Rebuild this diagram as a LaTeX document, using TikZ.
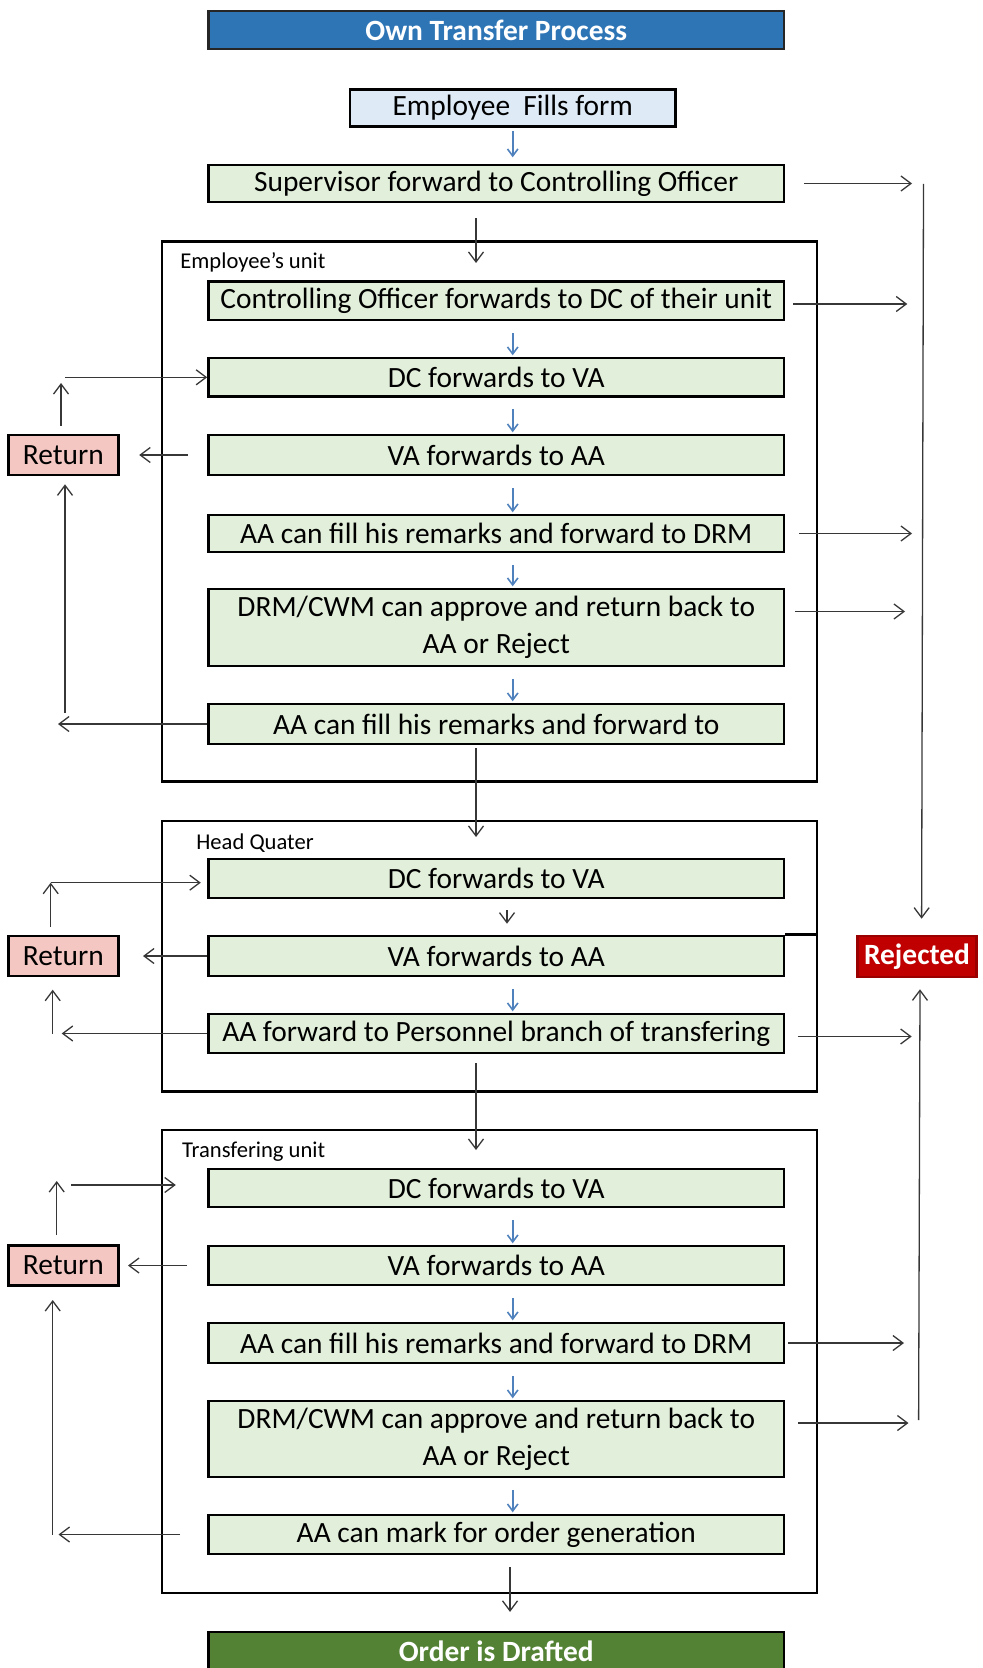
\documentclass[tikz,border=0pt]{standalone}
\usepackage{fontspec}
\setmainfont{Carlito}
\usetikzlibrary{arrows.meta}
\definecolor{titleblue}{RGB}{46,117,182}
\definecolor{lightblue}{RGB}{222,235,247}
\definecolor{boxgreen}{RGB}{226,239,218}
\definecolor{retpink}{RGB}{244,199,195}
\definecolor{rejred}{RGB}{192,0,0}
\definecolor{ordgreen}{RGB}{84,130,53}
\definecolor{arrblue}{RGB}{79,129,189}
\definecolor{arrgray}{RGB}{55,55,55}
\begin{document}
\begin{tikzpicture}[x=0.5pt,y=-0.5pt,
  base/.style={draw=black, line width=1.3pt, rectangle, inner sep=0pt, align=center,
    font=\fontsize{14.7}{18.6}\selectfont},
  boldtxt/.style={font=\bfseries\fontsize{14.7}{18.6}\selectfont, text=white},
  stepbox/.style={base, fill=boxgreen, minimum width=287.75pt},
  retbox/.style={base, fill=retpink, minimum width=55pt, minimum height=20pt},
  conbox/.style={draw=black, line width=1.3pt},
  lbl/.style={font=\fontsize{11.3}{13}\selectfont, anchor=base west, inner sep=0pt},
  arr/.style={draw=arrgray, line width=0.65pt, -{Straight Barb[length=5pt,width=7.5pt]}},
  barr/.style={draw=arrblue, line width=0.8pt, -{Straight Barb[length=3.5pt,width=5.2pt]},
    shorten <=5.8pt, shorten >=0.7pt},
]
\useasboundingbox (0,0) rectangle (982,1668);

% containers
\draw[conbox] (162,241.7) rectangle (817,781.7);
\draw[conbox] (162,821) rectangle (817,1091.5);
\draw[conbox] (162,1130) rectangle (817,1593);
\node[lbl] (lab1) at (180,269) {Employee's unit};
\node[lbl] (lab2) at (196,849.3) {Head Quater};
\node[lbl] (lab3) at (181.7,1157.3) {Transfering unit};

% top
\node[base, boldtxt, fill=titleblue, draw=black!85, minimum width=287.75pt, minimum height=19pt] (title) at (496.25,30) {Own Transfer Process};
\node[base, fill=lightblue, minimum width=162.8pt, minimum height=18.6pt] (emp) at (512.8,108) {Employee\ \ Fills form};
\node[stepbox, minimum height=18.5pt] (sup) at (496.25,183.5) {Supervisor forward to Controlling Officer};

% employee's unit
\node[stepbox, minimum height=19.2pt] (co) at (496.25,301) {Controlling Officer forwards to DC of their unit};
\node[stepbox, minimum height=19.3pt] (dc1) at (496.25,377.3) {DC forwards to VA};
\node[stepbox, minimum height=20pt] (va1) at (496.25,455) {VA forwards to AA};
\node[stepbox, minimum height=18.5pt] (aa1) at (496.25,533.5) {AA can fill his remarks and forward to DRM};
\node[stepbox, minimum height=38.5pt] (drm1) at (496.25,627.5) {DRM/CWM can approve and return back to\\AA or Reject};
\node[stepbox, minimum height=20pt] (aaf1) at (496.25,724) {AA can fill his remarks and forward to};

% head quater
\node[stepbox, minimum height=19.5pt] (dc2) at (496.25,878.5) {DC forwards to VA};
\node[stepbox, minimum height=20pt] (va2) at (496.25,956) {VA forwards to AA};
\node[stepbox, minimum height=19.5pt] (aap2) at (496.25,1033.5) {AA forward to Personnel branch of transfering};

% transfering unit
\node[stepbox, minimum height=19pt] (dc3) at (496.25,1188) {DC forwards to VA};
\node[stepbox, minimum height=19.5pt] (va3) at (496.25,1265.5) {VA forwards to AA};
\node[stepbox, minimum height=20pt] (aa3) at (496.25,1343) {AA can fill his remarks and forward to DRM};
\node[stepbox, minimum height=38pt] (drm3) at (496.25,1439) {DRM/CWM can approve and return back to\\AA or Reject};
\node[stepbox, minimum height=19.5pt] (aam3) at (496.25,1534.5) {AA can mark for order generation};

\node[base, boldtxt, fill=ordgreen, minimum width=287.75pt, minimum height=19.2pt] (order) at (496.25,1651) {Order is Drafted};

% side boxes
\node[retbox] (ret1) at (63.3,455) {Return};
\node[retbox] (ret2) at (63.3,956) {Return};
\node[retbox] (ret3) at (63.3,1265.5) {Return};
\node[base, boldtxt, fill=rejred, draw=rejred!80!black, minimum width=59.5pt, minimum height=20.5pt] (rej) at (917,956.5) {Rejected};

% stray border line
\coordinate (hqr) at (817,936);
\draw[line width=1.3pt] (va2.north east) -- (va2.north east -| hqr);

% blue step arrows
\coordinate (bx) at (512.7,0);
\draw[barr, shorten <=1.7pt, shorten >=3.2pt] (emp.south -| bx) -- (sup.north -| bx);
\draw[barr] (co.south -| bx) -- (dc1.north -| bx);
\draw[barr] (dc1.south -| bx) -- (va1.north -| bx);
\draw[barr] (va1.south -| bx) -- (aa1.north -| bx);
\draw[barr] (aa1.south -| bx) -- (drm1.north -| bx);
\draw[barr] (drm1.south -| bx) -- (aaf1.north -| bx);
\draw[barr] (va2.south -| bx) -- (aap2.north -| bx);
\draw[barr] (dc3.south -| bx) -- (va3.north -| bx);
\draw[barr] (va3.south -| bx) -- (aa3.north -| bx);
\draw[barr] (aa3.south -| bx) -- (drm3.north -| bx);
\draw[barr] (drm3.south -| bx) -- (aam3.north -| bx);
\coordinate (kx) at (507,0);
\draw[arr, shorten <=5.5pt, shorten >=5.5pt] (dc2.south -| kx) -- (va2.north -| kx);

% black flow arrows
\coordinate (u1in) at (476,263);
\coordinate (hqin) at (476,837);
\coordinate (trin) at (476,1150);
\coordinate (ox) at (510,0);
\draw[arr, shorten <=7.5pt] (sup.south -| u1in) -- (u1in);
\draw[arr, shorten <=1.5pt] (aaf1.south -| hqin) -- (hqin);
\draw[arr, shorten <=4.5pt] (aap2.south -| trin) -- (trin);
\draw[arr, shorten <=6pt, shorten >=9.3pt] (aam3.south -| ox) -- (order.north -| ox);

% right arrows towards Rejected
\coordinate (r1) at (912,0);
\coordinate (r2) at (907.3,0);
\coordinate (r3) at (905,0);
\coordinate (r4) at (911.7,0);
\coordinate (r5) at (904,0);
\coordinate (r6) at (908.5,0);
\draw[arr, shorten <=9.5pt] (sup.east) -- (sup.east -| r1);
\draw[arr, shorten <=3.9pt] ([yshift=-1.5pt]co.east) -- ([yshift=-1.5pt]co.east -| r2);
\draw[arr, shorten <=7pt] (aa1.east) -- (aa1.east -| r1);
\draw[arr, shorten <=5pt] ([yshift=8pt]drm1.east) -- ([yshift=8pt]drm1.east -| r3);
\draw[arr, shorten <=6.3pt] ([yshift=-1.5pt]aap2.east) -- ([yshift=-1.5pt]aap2.east -| r4);
\draw[arr, shorten <=1.5pt] (aa3.east) -- (aa3.east -| r5);
\draw[arr, shorten <=6.5pt] ([yshift=8pt]drm3.east) -- ([yshift=8pt]drm3.east -| r6);
\coordinate (rtop) at (923.5,184);
\coordinate (rbot) at (918.6,1420);
\draw[arr] (rtop) -- ([xshift=2.3pt,yshift=8pt]rej.north);
\draw[arr] (rbot) -- ([xshift=1.5pt,yshift=-5.5pt]rej.south);

% left side: section 1
\coordinate (l1a) at (61,383);
\coordinate (l1b) at (65,377.3);
\coordinate (l1c) at (58,724);
\coordinate (l1d) at (65,713);
\draw[arr, shorten <=4pt] (ret1.north -| l1a) -- (l1a);
\draw[arr] (l1b) -- (dc1.west);
\draw[arr, shorten <=9.5pt, shorten >=9.8pt] (va1.west) -- (ret1.east);
\draw[arr] (aaf1.west) -- (l1c);
\draw[arr, shorten >=4pt] (l1d) -- (l1d |- ret1.south);

% section 2
\coordinate (l2a) at (50.7,882.7);
\coordinate (l2c) at (61.7,1033.5);
\coordinate (l2d) at (52.7,1033.5);
\draw[arr, shorten <=4pt] (ret2.north -| l2a) -- (l2a);
\draw[arr, shorten >=3.2pt] (l2a) -- (l2a -| dc2.west);
\draw[arr, shorten >=11.7pt] (va2.west) -- (ret2.east);
\draw[arr] (aap2.west) -- (l2c);
\draw[arr, shorten >=6.2pt] (l2d) -- (l2d |- ret2.south);

% section 3
\coordinate (l3a) at (56.7,1181);
\coordinate (l3b) at (71,1185);
\coordinate (l3c) at (58.5,1534.5);
\coordinate (l3d) at (52.7,1534.5);
\draw[arr, shorten <=4.5pt] (ret3.north -| l3a) -- (l3a);
\draw[arr, shorten >=15.7pt] (l3b) -- (l3b -| dc3.west);
\draw[arr, shorten <=10.3pt, shorten >=4.2pt] (va3.west) -- (ret3.east);
\draw[arr, shorten <=13.5pt] (aam3.west) -- (l3c);
\draw[arr, shorten >=6.6pt] (l3d) -- (l3d |- ret3.south);
\end{tikzpicture}
\end{document}
